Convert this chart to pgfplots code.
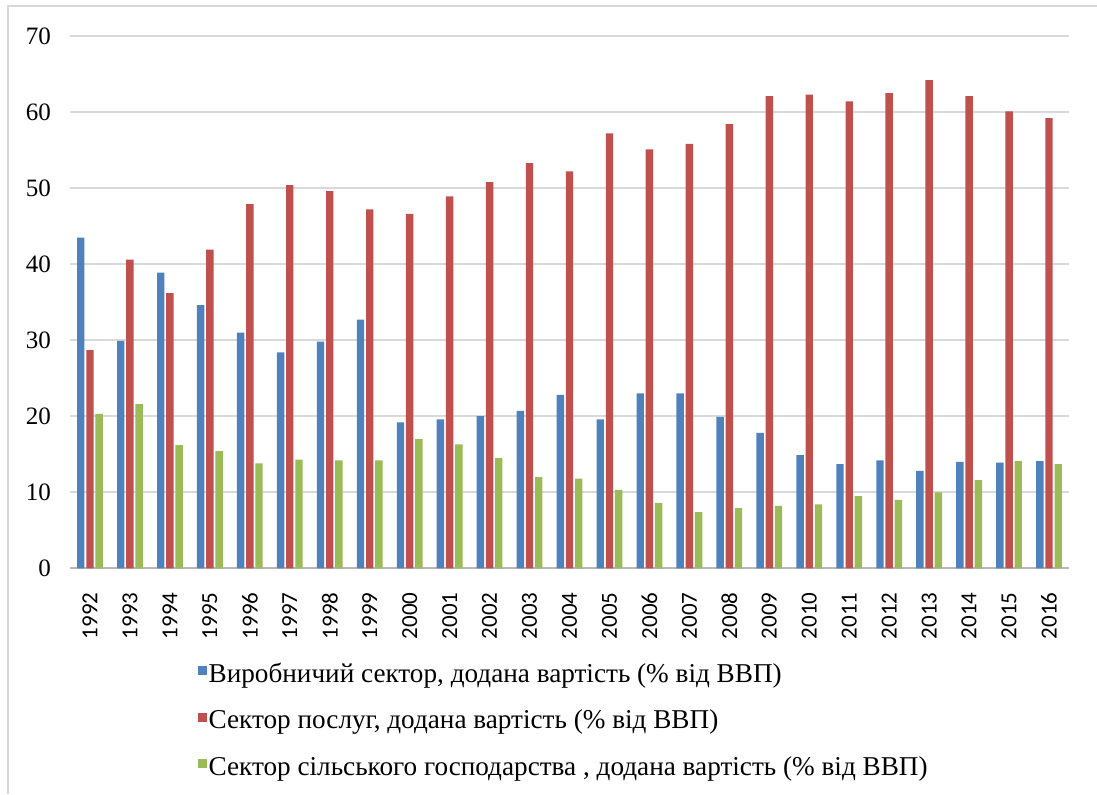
\documentclass[border=0pt]{standalone}
\usepackage{pgfplots}
\usepackage{pgfplotstable}
\pgfplotsset{compat=1.18}
\usepackage{fontspec}
\setmainfont{Liberation Serif}
\newfontfamily\carlito{Carlito}
\definecolor{cblue}{HTML}{4F81BD}
\definecolor{cred}{HTML}{C0504D}
\definecolor{cgreen}{HTML}{9BBB59}
\definecolor{cgrid}{HTML}{D9D9D9}

\pgfplotstableread{
x blue red green
0 43.5 28.7 20.3
1 29.9 40.6 21.6
2 38.9 36.2 16.2
3 34.6 41.9 15.4
4 31.0 47.9 13.8
5 28.4 50.4 14.3
6 29.8 49.6 14.2
7 32.7 47.2 14.2
8 19.2 46.6 17.0
9 19.6 48.9 16.3
10 20.0 50.8 14.5
11 20.7 53.3 12.0
12 22.8 52.2 11.8
13 19.6 57.2 10.3
14 23.0 55.1 8.6
15 23.0 55.8 7.4
16 19.9 58.4 7.9
17 17.8 62.1 8.2
18 14.9 62.3 8.4
19 13.7 61.4 9.5
20 14.2 62.5 9.0
21 12.8 64.2 10.0
22 14.0 62.1 11.6
23 13.9 60.1 14.1
24 14.1 59.2 13.7
}\datatable

\begin{document}
\begin{tikzpicture}
\useasboundingbox (0,0) rectangle (548.5pt,397pt);
\draw[cgrid, line width=1pt] (4pt,0pt) -- (4pt,394pt) -- (548.5pt,394pt);
\begin{axis}[
  at={(35pt,112.85pt)}, anchor=south west,
  width=499.5pt, height=266.15pt, scale only axis,
  ybar=0.9pt, bar width=3.7pt,
  xmin=-0.5, xmax=24.5, ymin=0, ymax=70,
  ytick={0,10,...,70},
  xtick={0,...,24},
  xticklabels={1992,1993,1994,1995,1996,1997,1998,1999,2000,2001,2002,2003,2004,2005,2006,2007,2008,2009,2010,2011,2012,2013,2014,2015,2016},
  axis x line*=bottom, axis y line*=left,
  y axis line style={draw=none},
  x axis line style={draw=cgrid!85!black, line width=0.9pt, -},
  major tick length=0pt,
  ymajorgrids, grid style={draw=cgrid, line width=0.8pt},
  /pgf/number format/assume math mode=true,
  yticklabel style={font=\fontsize{12.5}{14}\selectfont, xshift=-6pt},
  xticklabel style={yshift=-8.5pt, rotate=90, anchor=east, font=\carlito\fontsize{11.5}{13}\selectfont},
  legend style={at={(0.128,-0.176)}, anchor=north west, draw=none, fill=none,
    inner sep=0pt, row sep=10.25pt,
    nodes={inner xsep=1pt, inner ysep=0pt, text height=10pt, text depth=3pt},
    font=\fontsize{13.6}{15}\selectfont},
  legend cell align=left,
  legend image code/.code={\fill[#1] (0pt,0pt) rectangle (4.2pt,4.5pt);},
]
\addplot[fill=cblue, draw=none] table[x=x, y=blue] {\datatable};
\addplot[fill=cred, draw=none] table[x=x, y=red] {\datatable};
\addplot[fill=cgreen, draw=none] table[x=x, y=green] {\datatable};
\legend{{Виробничий сектор, додана вартість (\% від ВВП)},
        {Сектор послуг, додана вартість (\% від ВВП)},
        {Сектор сільського господарства , додана вартість (\% від ВВП)}}
\end{axis}
\end{tikzpicture}
\end{document}
